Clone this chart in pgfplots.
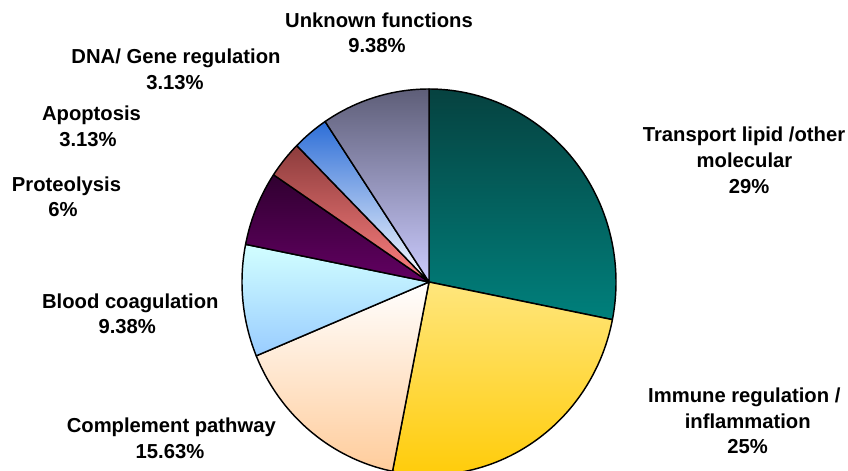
\documentclass[border=0pt]{standalone}
\usepackage{pgfplots}
\pgfplotsset{compat=1.18}
\usepackage{pgfplotstable}
\usepackage{fontspec}
\setmainfont{Liberation Sans}

\definecolor{tealTop}{RGB}{6,66,64}
\definecolor{tealBot}{RGB}{0,128,124}
\definecolor{yelTop}{RGB}{255,230,125}
\definecolor{yelBot}{RGB}{255,204,10}
\definecolor{peachTop}{RGB}{255,255,255}
\definecolor{peachBot}{RGB}{255,204,155}
\definecolor{lblueTop}{RGB}{210,255,255}
\definecolor{lblueBot}{RGB}{153,204,255}
\definecolor{purTop}{RGB}{48,0,48}
\definecolor{purBot}{RGB}{98,0,98}
\definecolor{redTop}{RGB}{140,60,60}
\definecolor{redBot}{RGB}{255,128,128}
\definecolor{blueTop}{RGB}{45,110,215}
\definecolor{blueBot}{RGB}{255,255,255}
\definecolor{lavTop}{RGB}{94,94,120}
\definecolor{lavBot}{RGB}{204,204,255}

% slice shares as drawn (share of 100), clockwise from 12 o'clock
\pgfplotstableread[col sep=comma]{
value,ctop,cbot
28.125,tealTop,tealBot
25,yelTop,yelBot
15.625,peachTop,peachBot
9.375,lblueTop,lblueBot
6.25,purTop,purBot
3.125,redTop,redBot
3.125,blueTop,blueBot
9.375,lavTop,lavBot
}\piedata

\newcommand{\lblfont}{\fontsize{20.3}{24}\selectfont\bfseries}
\newcommand{\lbl}[3]{\node[anchor=base, inner sep=0pt, font=\lblfont] at (axis cs:#1,#2) {#3};}

\begin{document}
\begin{tikzpicture}
\useasboundingbox (0,0) rectangle (848bp,471bp);
\begin{axis}[
  at={(0,0)}, anchor=south west,
  scale only axis, width=848bp, height=471bp,
  xmin=0, xmax=848, ymin=0, ymax=471,
  hide axis, clip=true,
]
\def\acc{0}
\pgfplotsforeachungrouped \i in {0,...,7}{%
  \pgfplotstablegetelem{\i}{value}\of\piedata \let\val\pgfplotsretval
  \pgfplotstablegetelem{\i}{ctop}\of\piedata \let\ct\pgfplotsretval
  \pgfplotstablegetelem{\i}{cbot}\of\piedata \let\cb\pgfplotsretval
  \pgfmathsetmacro\angA{90-3.6*\acc}%
  \pgfmathsetmacro\acc{\acc+\val}%
  \pgfmathsetmacro\angB{90-3.6*\acc}%
  \edef\doslice{\noexpand\addplot[draw=black, line width=1.45pt, line join=round,
     top color=\ct, bottom color=\cb, domain=\angB:\angA, samples=90,
     variable=\noexpand\t]
     ({429+187*cos(\noexpand\t)}, {189+193*sin(\noexpand\t)}) -- (axis cs:429,189) -- cycle;}%
  \doslice
}

\lbl{379}{443}{Unknown functions}
\lbl{377}{418}{9.38\%}
\lbl{176}{407.7}{DNA/ Gene regulation}
\lbl{175}{381.7}{3.13\%}
\lbl{91.5}{350.3}{Apoptosis}
\lbl{88}{324.3}{3.13\%}
\lbl{66.5}{279.3}{Proteolysis}
\lbl{63}{254.3}{6\%}
\lbl{130.3}{162.7}{Blood coagulation}
\lbl{127.3}{137.7}{9.38\%}
\lbl{171.3}{38.3}{Complement pathway}
\lbl{170}{12.7}{15.63\%}
\lbl{744}{329.3}{Transport lipid /other}
\lbl{744.5}{303.3}{molecular}
\lbl{749}{277.7}{29\%}
\lbl{744.3}{68.3}{Immune regulation /}
\lbl{747.7}{42.7}{inflammation}
\lbl{747.7}{17.7}{25\%}
\end{axis}
\end{tikzpicture}
\end{document}
